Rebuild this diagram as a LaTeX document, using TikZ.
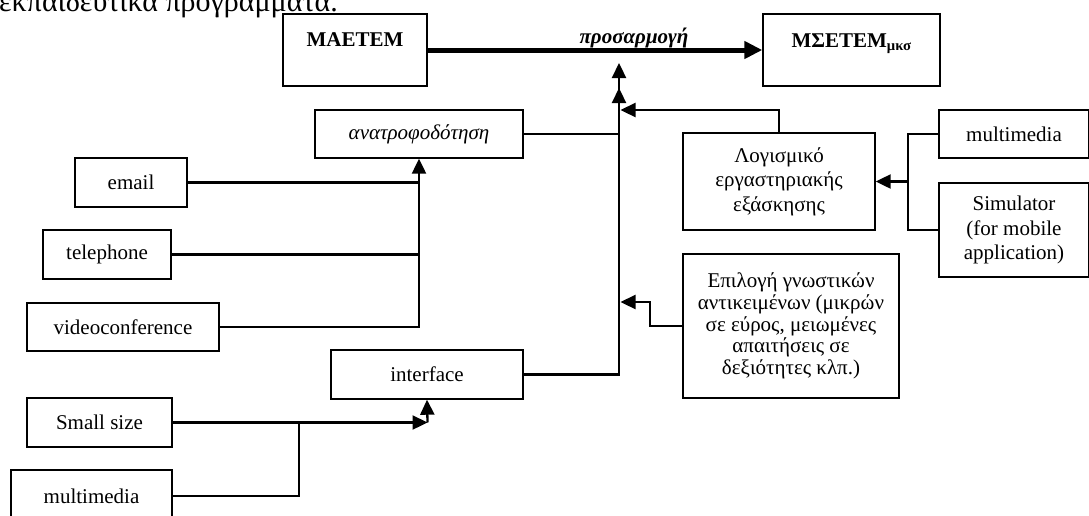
\documentclass[tikz,border=0pt]{standalone}
\usepackage{fontspec}
\setmainfont{Liberation Serif}
\usetikzlibrary{arrows.meta}
\newcommand\txt{\fontsize{21}{24.5}\selectfont}
\tikzset{
  box/.style={draw, line width=1.4pt, inner sep=0pt, align=center, font=\txt},
  conn/.style={line width=2.3pt},
  arr/.style={conn, -{Triangle[length=15pt,width=14pt]}},
  bigarr/.style={line width=5pt, -{Triangle[length=18pt,width=17pt]}},
}
\begin{document}
\begin{tikzpicture}[x=1pt,y=-1pt]
\useasboundingbox (0,0) rectangle (1089,515);
\clip (0,0) rectangle (1089,515);
% heading fragment
\node[anchor=base east, inner sep=0pt, font=\fontsize{30}{34}\selectfont] (head) at (338,11) {εκπαιδευτικά προγράμματα.};
% boxes
\node[box, minimum width=144, minimum height=72] (maetem) at (355,50) {};
\node[anchor=base, inner sep=0pt, font=\txt\bfseries] (maetemt) at (355,46) {ΜΑΕΤΕΜ};
\node[box, minimum width=177, minimum height=72] (msetem) at (851.5,50) {};
\node[anchor=base, inner sep=0pt, font=\txt\bfseries] (msetemt) at (851.5,47) {ΜΣΕΤΕΜ\textsubscript{μκσ}};
\node[box, minimum width=208, minimum height=48, font=\txt\itshape] (anatro) at (419,134) {ανατροφοδότηση};
\node[box, minimum width=112, minimum height=49] (email) at (131,182.5) {email};
\node[box, minimum width=128, minimum height=49] (tel) at (107,254.5) {telephone};
\node[box, minimum width=192, minimum height=48] (video) at (123,327) {videoconference};
\node[box, minimum width=192, minimum height=49] (iface) at (427,374.5) {interface};
\node[box, minimum width=145, minimum height=49] (small) at (99.5,422.5) {Small size};
\node[box, minimum width=161, minimum height=52] (mmb) at (91.5,496) {multimedia};
\node[box, minimum width=192, minimum height=97] (logism) at (779,181.5) {Λογισμικό\\εργαστηριακής\\εξάσκησης};
\node[box, minimum width=150, minimum height=48] (mmr) at (1014,134) {multimedia};
\node[box, minimum width=150, minimum height=94] (sim) at (1014,230) {Simulator\\(for mobile\\application)};
\node[box, minimum width=216, minimum height=144, font=\fontsize{21}{21.7}\selectfont] (epil) at (791,326) {Επιλογή γνωστικών\\αντικειμένων (μικρών\\σε εύρος, μειωμένες\\απαιτήσεις σε\\δεξιότητες κλπ.)};
% main adaptation arrow
\draw[bigarr] (maetem.east) -- (msetem.west);
\node[anchor=base, inner sep=0pt, font=\txt\bfseries\itshape] (adapt) at (634,43) {προσαρμογή};
% central trunk
\coordinate (tipA) at (619,63);
\coordinate (tipB) at (619,88);
\coordinate (tipC) at (620.5,110);
\coordinate (tipD) at (620.5,302);
\draw[arr] (anatro.east) -| (tipA);
\draw[arr] (iface.east) -| (tipB);
\draw[arr] (logism.north) |- (tipC);
\draw[arr] (epil.west) -- ++(-32,0) |- (tipD);
% right group
\coordinate (jr) at (908,181.5);
\draw[conn] (mmr.west) -| (jr) |- (sim.west);
\draw[arr] (jr) -- (logism.east);
% feedback group
\draw[conn] (email.east) -- (email.east -| anatro.south);
\draw[conn] (tel.east) -- (tel.east -| anatro.south);
\draw[arr] (video.east) -| (anatro.south);
% interface group
\coordinate (ci) at (427.5,422.5);
\coordinate (jm) at (299,422.5);
\draw[arr] (small.east) -- (ci);
\draw[arr] (ci) -- (iface.south);
\draw[conn] (mmb.east) -| (jm);
\end{tikzpicture}
\end{document}
